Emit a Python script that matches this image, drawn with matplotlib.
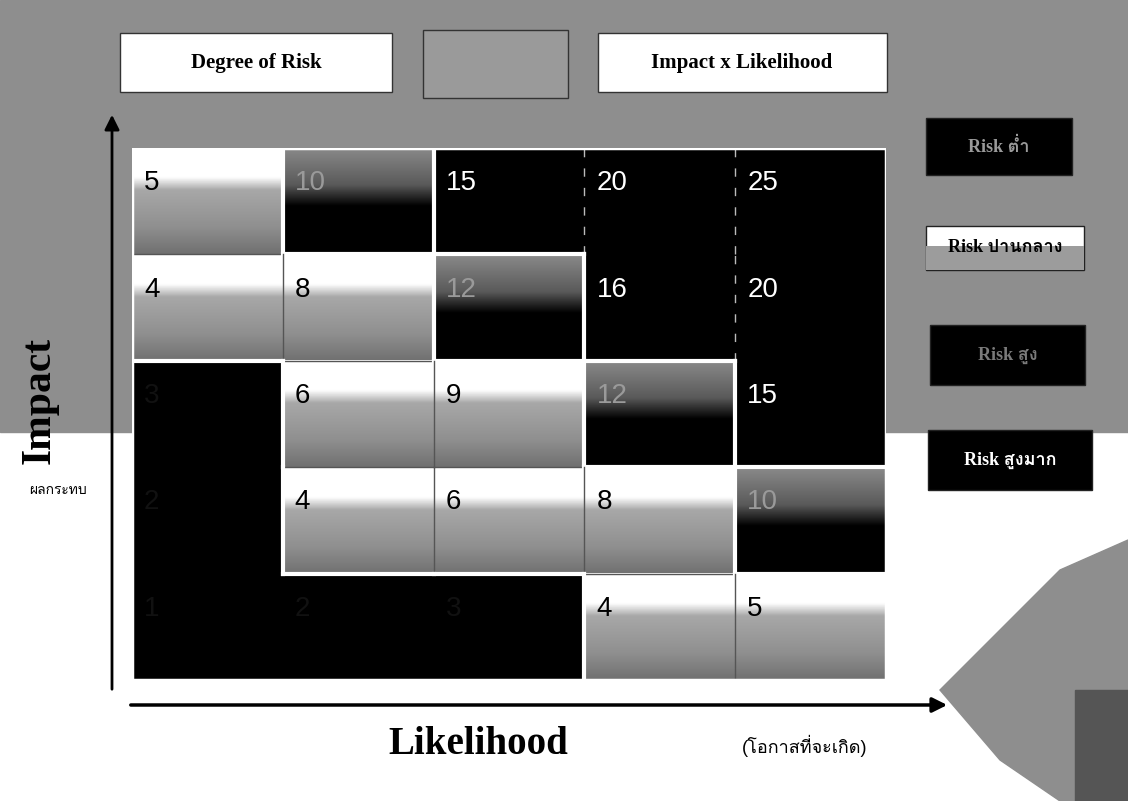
import matplotlib
matplotlib.use("Agg")
import matplotlib.pyplot as plt
import numpy as np
from matplotlib.colors import LinearSegmentedColormap
from matplotlib.patches import Rectangle, Polygon
from matplotlib import font_manager
from matplotlib.ft2font import FT2Font

# ---- find a font with Thai glyphs ----
thai_family = None
for f in font_manager.fontManager.ttflist:
    try:
        if 0x0E01 in FT2Font(f.fname).get_charmap():
            thai_family = f.name
            break
    except Exception:
        pass
sans = ['Liberation Sans', 'DejaVu Sans'] + ([thai_family] if thai_family else [])
serif = ['Liberation Serif', 'DejaVu Serif'] + ([thai_family] if thai_family else [])
plt.rcParams['font.family'] = sans

# ---- data ----
likelihood = [1, 2, 3, 4, 5]
impact = [5, 4, 3, 2, 1]                     # rows from top to bottom
values = [[5, 10, 15, 20, 25],
          [4, 8, 12, 16, 20],
          [3, 6, 9, 12, 15],
          [2, 4, 6, 8, 10],
          [1, 2, 3, 4, 5]]
levels = [['L', 'M', 'H', 'H', 'H'],
          ['L', 'L', 'M', 'H', 'H'],
          ['K', 'L', 'L', 'M', 'H'],
          ['K', 'L', 'L', 'L', 'M'],
          ['K', 'K', 'K', 'L', 'L']]
title_left = "Degree of Risk"
title_right = "Impact x Likelihood"
legend_labels = ["Risk ต่ำ", "Risk ปานกลาง", "Risk สูง", "Risk สูงมาก"]
x_label, x_label_th = "Likelihood", "(โอกาสที่จะเกิด)"
y_label, y_label_th = "Impact", "ผลกระทบ"

W, H = 1128, 801
fig = plt.figure(figsize=(W / 100, H / 100), dpi=100)
fig.patch.set_facecolor('white')

# background axes in pixel coordinates
bg = fig.add_axes([0, 0, 1, 1])
bg.set_xlim(0, W)
bg.set_ylim(H, 0)
bg.axis('off')
GRAY = '#8e8e8e'
bg.add_patch(Rectangle((0, 0), W, 432, color=GRAY, zorder=0))
bg.add_patch(Polygon([(1128, 540), (1060, 570), (940, 690), (1000, 760),
                      (1060, 801), (1128, 801)], closed=True, color=GRAY, zorder=0))
bg.add_patch(Rectangle((1075, 690), 53, 111, color='#555555', zorder=0))

# title boxes
bg.add_patch(Rectangle((120, 33), 272, 59, facecolor='white', edgecolor='#333333', lw=1, zorder=2))
bg.text(256, 63, title_left, ha='center', va='center', fontsize=15, fontweight='bold',
        family=serif, zorder=3)
bg.add_patch(Rectangle((423, 30), 145, 68, facecolor='#9a9a9a', edgecolor='#333333', lw=1, zorder=2))
bg.add_patch(Rectangle((598, 33), 289, 59, facecolor='white', edgecolor='#333333', lw=1, zorder=2))
bg.text(742, 63, title_right, ha='center', va='center', fontsize=15, fontweight='bold',
        family=serif, zorder=3)

# legend boxes
leg_boxes = [(926, 118, 146, 57, 'black', '#9a9a9a'),
             (926, 226, 158, 44, 'white', 'black'),
             (930, 325, 155, 60, 'black', '#7a7a7a'),
             (928, 430, 164, 60, 'black', 'white')]
for (x0, y0, w, h, fc, tc), lab in zip(leg_boxes, legend_labels):
    bg.add_patch(Rectangle((x0, y0), w, h, facecolor=fc, edgecolor='#222222', lw=1, zorder=2))
    if fc == 'white':
        bg.add_patch(Rectangle((x0, y0 + h * 0.45), w, h * 0.55, facecolor='#9c9c9c', lw=0, zorder=2))
    bg.text(x0 + w / 2, y0 + h / 2, lab, ha='center', va='center', fontsize=13,
            fontweight='bold', color=tc, family=serif, zorder=3)

# arrows
bg.annotate('', xy=(112, 112), xytext=(112, 692),
            arrowprops=dict(arrowstyle='-|>', color='black', lw=2, mutation_scale=22), zorder=4)
bg.annotate('', xy=(950, 705), xytext=(128, 705),
            arrowprops=dict(arrowstyle='-|>', color='black', lw=2.5, mutation_scale=22), zorder=4)

# axis labels
bg.text(40, 400, y_label, rotation=90, ha='center', va='center', fontsize=30,
        fontweight='bold', family=serif, color='black', zorder=3)
bg.text(58, 490, y_label_th, ha='center', va='center', fontsize=10, color='black', zorder=3)
bg.text(478, 745, x_label, ha='center', va='center', fontsize=28, fontweight='bold',
        family=serif, color='black', zorder=3)
bg.text(805, 746, x_label_th, ha='center', va='center', fontsize=13, color='black', zorder=3)

# ---- matrix axes ----
ax = fig.add_axes([132 / W, 1 - 680 / H, (886 - 132) / W, (680 - 148) / H])
ax.set_xlim(0.5, 5.5)
ax.set_ylim(0.5, 5.5)
ax.axis('off')

cm_low = LinearSegmentedColormap.from_list('low', [(0, '#ffffff'), (0.28, '#ffffff'),
                                                  (0.40, '#a8a8a8'), (0.75, '#8f8f8f'),
                                                  (1.0, '#707070')])
cm_med = LinearSegmentedColormap.from_list('med', [(0, '#8a8a8a'), (0.35, '#5a5a5a'),
                                                  (0.55, '#000000'), (1.0, '#000000')])
grad = np.linspace(0, 1, 200).reshape(-1, 1)
text_col = {'L': 'black', 'M': '#9a9a9a', 'H': 'white', 'K': '#111111'}

for r, imp in enumerate(impact):
    for c, lik in enumerate(likelihood):
        lev = levels[r][c]
        ext = (lik - 0.5, lik + 0.5, imp - 0.5, imp + 0.5)
        if lev == 'L':
            ax.imshow(grad, cmap=cm_low, extent=ext, aspect='auto', origin='upper', zorder=1)
        elif lev == 'M':
            ax.imshow(grad, cmap=cm_med, extent=ext, aspect='auto', origin='upper', zorder=1)
        else:
            ax.add_patch(Rectangle((lik - 0.5, imp - 0.5), 1, 1, color='black', lw=0, zorder=1))
        ax.text(lik - 0.42, imp + 0.17, str(values[r][c]), ha='left', va='center',
                fontsize=20, color=text_col[lev], zorder=3)

ax.set_ylim(0.5, 5.5)
ax.set_xlim(0.5, 5.5)

# cell boundaries
for r, imp in enumerate(impact):
    for c, lik in enumerate(likelihood):
        lev = levels[r][c]
        if c < 4:
            nb = levels[r][c + 1]
            xs = [lik + 0.5, lik + 0.5]
            ys = [imp - 0.5, imp + 0.5]
            if nb != lev:
                ax.plot(xs, ys, color='white', lw=3, zorder=4)
            elif lev == 'L':
                ax.plot(xs, ys, color='#555555', lw=1, zorder=4)
            elif lev == 'H':
                ax.plot(xs, ys, color='#bbbbbb', lw=1, ls=(0, (6, 8)), zorder=4)
        if r < 4:
            nb = levels[r + 1][c]
            xs = [lik - 0.5, lik + 0.5]
            ys = [imp - 0.5, imp - 0.5]
            if nb != lev:
                ax.plot(xs, ys, color='white', lw=3, zorder=4)
            elif lev == 'L':
                ax.plot(xs, ys, color='#555555', lw=1, zorder=4)

ax.add_patch(Rectangle((0.5, 0.5), 5, 5, fill=False, edgecolor='white', lw=2.5, zorder=5))

fig.savefig('out.png', dpi=100, facecolor='white')
